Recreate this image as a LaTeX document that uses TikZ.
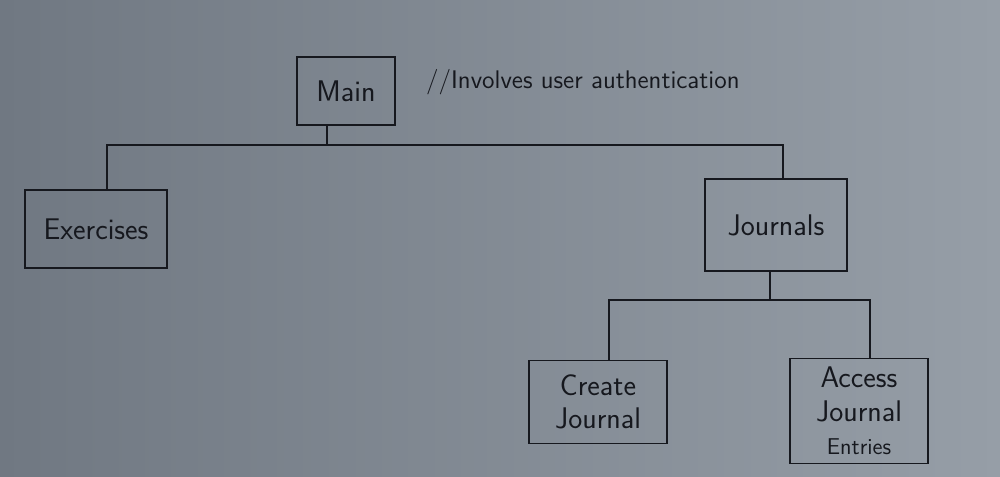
\documentclass[tikz,border=0pt]{standalone}
\usepackage{tikz}
\usetikzlibrary{backgrounds}
\definecolor{paper}{RGB}{150,158,167}
\definecolor{paperdark}{RGB}{112,120,130}
\definecolor{pencil}{RGB}{22,24,30}
\tikzset{
  pbox/.style={draw=pencil, line width=1.1pt, minimum width=#1, inner sep=2pt,
    font=\sffamily\fontsize{17}{19}\selectfont, text=pencil, align=center},
  wire/.style={draw=pencil, line width=1.1pt}
}

\begin{document}
\begin{tikzpicture}
    \useasboundingbox (0,0) rectangle (20,9.54);
    \shade[left color=paperdark, right color=paper] (0,0) rectangle (20,9.54);

    \node[pbox=1.96cm, minimum height=1.36cm] (main) at (6.92,7.72) {Main};
    \node[anchor=west, text=pencil, font=\sffamily\fontsize{14.5}{16}\selectfont]
      (note) at (8.4,7.9) {//Involves user authentication};

    \node[pbox=2.84cm, minimum height=1.56cm] (exer) at (1.92,4.96) {Exercises};
    \node[pbox=2.84cm, minimum height=1.84cm] (jour) at (15.52,5.04) {Journals};

    \node[pbox=2.76cm, minimum height=1.66cm] (create) at (11.96,1.5) {Create\\Journal};
    \node[pbox=2.76cm, minimum height=2.1cm] (access) at (17.18,1.32)
      {Access\\Journal\\{\fontsize{13}{13}\selectfont Entries}};

    \coordinate (topbar) at (6.54,6.64);
    \coordinate (lowbar) at (15.4,3.54);

    \draw[wire] ([xshift=-0.38cm]main.south) -- (topbar);
    \draw[wire] ([xshift=0.22cm]exer.north) |- (topbar) -| ([xshift=0.14cm]jour.north);
    \draw[wire] ([xshift=-0.12cm]jour.south) -- (lowbar);
    \draw[wire] ([xshift=0.22cm]create.north) |- (lowbar) -| ([xshift=0.22cm]access.north);
\end{tikzpicture}
\end{document}
